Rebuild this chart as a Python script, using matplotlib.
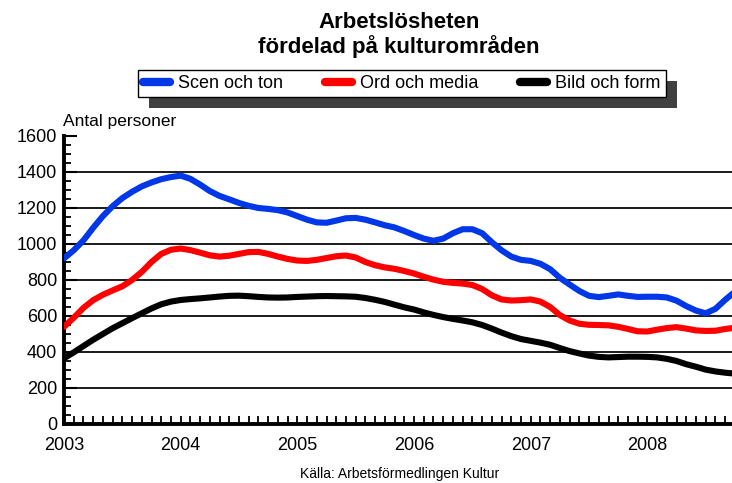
import matplotlib
matplotlib.use("Agg")
import matplotlib.pyplot as plt
import matplotlib.patches
from matplotlib.ticker import MultipleLocator
import numpy as np

plt.rcParams["font.family"] = ["Liberation Sans", "DejaVu Sans"]

# monthly values from Jan 2003
scen_och_ton = [920, 965, 1020, 1090, 1155, 1210, 1255, 1290, 1320, 1342, 1360, 1372,
                1380, 1362, 1330, 1294, 1267, 1248, 1228, 1212, 1200, 1195, 1188, 1175,
                1155, 1135, 1120, 1118, 1130, 1143, 1145, 1135, 1120, 1104, 1092, 1072,
                1050, 1030, 1018, 1030, 1060, 1082, 1082, 1060, 1010, 965, 930, 912,
                906, 890, 860, 812, 775, 739, 712, 705, 712, 720, 712, 706,
                707, 707, 703, 685, 655, 630, 615, 640, 690, 735]
ord_och_media = [540, 590, 645, 688, 718, 742, 765, 800, 845, 900, 945, 968,
                 975, 966, 952, 937, 930, 935, 945, 955, 956, 945, 930, 917,
                 908, 906, 912, 922, 932, 936, 925, 900, 882, 870, 862, 850,
                 836, 818, 802, 790, 784, 780, 772, 750, 715, 692, 686, 688,
                 692, 680, 650, 605, 575, 557, 551, 550, 548, 540, 528, 515,
                 514, 524, 533, 538, 530, 520, 517, 518, 528, 535]
bild_och_form = [365, 398, 433, 468, 500, 532, 560, 588, 615, 642, 665, 680,
                 689, 694, 698, 703, 708, 712, 713, 710, 706, 703, 702, 703,
                 706, 708, 710, 711, 710, 709, 707, 700, 690, 678, 663, 648,
                 636, 620, 606, 594, 584, 575, 565, 550, 530, 508, 488, 472,
                 462, 452, 440, 422, 405, 392, 380, 373, 370, 372, 374, 374,
                 373, 370, 362, 350, 332, 318, 302, 292, 285, 280]
series_names = ["Scen och ton", "Ord och media", "Bild och form"]
series_colors = ["#0038E8", "#FF0000", "#000000"]
years = [2003, 2004, 2005, 2006, 2007, 2008]

W, H = 732, 483
fig = plt.figure(figsize=(W / 100, H / 100), dpi=100)
ax = fig.add_axes([64 / W, 1 - 424 / H, (W - 64) / W, 288 / H])

t = 2003 + np.arange(len(scen_och_ton)) / 12
for vals, name, col in zip([scen_och_ton, ord_och_media, bild_och_form],
                           series_names, series_colors):
    ax.plot(t, vals, color=col, lw=4.4, label=name, solid_capstyle="round", zorder=3)

ax.set_xlim(2003, 2003 + 68.7 / 12)
ax.set_ylim(0, 1600)
ax.set_xticks(years)
ax.set_xticklabels([str(y) for y in years])
ax.xaxis.set_minor_locator(MultipleLocator(1 / 12))
ax.yaxis.set_major_locator(MultipleLocator(200))
ax.yaxis.set_minor_locator(MultipleLocator(50))
ax.tick_params(axis="x", which="both", direction="in", length=6, width=1.3,
               labelsize=13, pad=9)
ax.tick_params(axis="y", which="major", direction="in", length=9, width=1.5,
               labelsize=13, pad=5)
ax.tick_params(axis="y", which="minor", direction="in", length=5, width=1.3)

for y in range(200, 1600, 200):
    ax.axhline(y, color="#1a1a1a", lw=1.4, zorder=1)

for s in ["top", "right"]:
    ax.spines[s].set_visible(False)
for s in ["left", "bottom"]:
    ax.spines[s].set_linewidth(2.8)

fig.text(399 / W, 1 - 22 / H, "Arbetslösheten", ha="center", va="center",
         fontsize=16, weight="bold")
fig.text(399 / W, 1 - 47 / H, "fördelad på kulturområden", ha="center",
         va="center", fontsize=16, weight="bold")
fig.text(63 / W, 1 - 121 / H, "Antal personer", ha="left", va="center", fontsize=12.5)
fig.text(400 / W, 1 - 474 / H, "Källa: Arbetsförmedlingen Kultur", ha="center",
         va="center", fontsize=10)

leg = fig.legend(loc="center", bbox_to_anchor=(402 / W, 1 - 83.5 / H), ncol=3,
                 fontsize=13, frameon=True, fancybox=False, shadow=False,
                 framealpha=1, facecolor="white",
                 handlelength=1.5, handletextpad=0.45, columnspacing=2.3,
                 borderpad=0.3, borderaxespad=0)
leg.get_frame().set_edgecolor("black")
leg.get_frame().set_linewidth(1.0)
leg.set_zorder(10)
for h in leg.get_lines():
    h.set_linewidth(6)
    h.set_solid_capstyle("round")

# shadow behind legend
fig.canvas.draw()
bb = leg.get_window_extent()
shadow = matplotlib.patches.Rectangle((bb.x0 + 11, bb.y0 - 11), bb.width, bb.height,
                                      transform=None, facecolor="#404040",
                                      edgecolor="none", zorder=1)
fig.add_artist(shadow)

fig.savefig("out.png", dpi=100)
